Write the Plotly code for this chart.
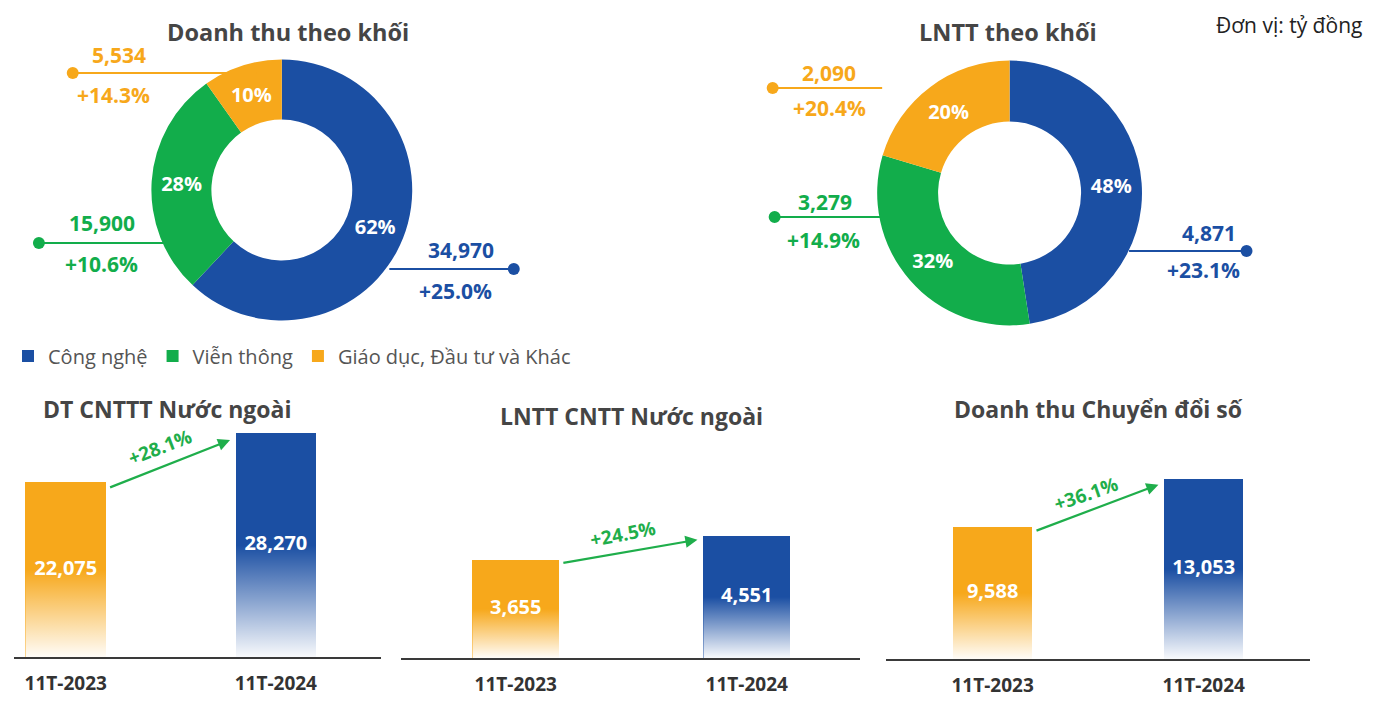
import plotly.graph_objects as go

# ---------------- data ----------------
segments = ["Công nghệ", "Viễn thông", "Giáo dục, Đầu tư và Khác"]
revenue_by_segment = [34970, 15900, 5534]
revenue_growth = ["+25.0%", "+10.6%", "+14.3%"]
pbt_by_segment = [4871, 3279, 2090]
pbt_growth = ["+23.1%", "+14.9%", "+20.4%"]

periods = ["11T-2023", "11T-2024"]
foreign_it_revenue = [22075, 28270]
foreign_it_pbt = [3655, 4551]
digital_revenue = [9588, 13053]

# ---------------- style ----------------
OFF = 8                      # page body margin
W, H = 1376 - 2 * OFF, 708 - 2 * OFF
FONT = "Open Sans"
BLUE, GREEN, ORANGE = "#1b4fa3", "#12ad4b", "#f7a81b"
SEG_COLORS = [BLUE, GREEN, ORANGE]
TITLE_C = "#454545"


def fx(x):
    return (x - OFF) / W


def fy(y):
    return 1 - (y - OFF) / H


fig = go.Figure()

# ---------------- donuts ----------------
donuts = [
    dict(values=revenue_by_segment, growth=revenue_growth, cx=277, cy=190, r=131,
         legend="legend", title="Doanh thu theo khối", tx=283,
         callouts=[
             dict(dot=510, end=385, y=269, v=(457, 250), g=(451, 291)),
             dict(dot=33, end=160, y=243, v=(96, 223), g=(96, 264)),
             dict(dot=67, end=252, y=73, v=(113, 55), g=(108, 95)),
         ]),
    dict(values=pbt_by_segment, growth=pbt_growth, cx=1008, cy=193, r=133,
         legend="legend2", title="LNTT theo khối", tx=1006,
         callouts=[
             dict(dot=1246, end=1128, y=251, v=(1208, 233), g=(1203, 270)),
             dict(dot=772, end=878, y=217, v=(823, 202), g=(821, 240)),
             dict(dot=770, end=880, y=88, v=(827, 73), g=(827, 108)),
         ]),
]

shapes = []
annotations = []

for d in donuts:
    fig.add_trace(go.Pie(
        labels=segments, values=d["values"], hole=0.54, sort=False,
        direction="clockwise", rotation=0,
        marker=dict(colors=SEG_COLORS, line=dict(width=0)),
        texttemplate="%{percent:.0%}", textposition="inside",
        insidetextorientation="horizontal",
        textfont=dict(family=FONT, size=20, color="white", weight="bold"),
        domain=dict(x=[fx(d["cx"] - d["r"]), fx(d["cx"] + d["r"])],
                    y=[fy(d["cy"] + d["r"]), fy(d["cy"] - d["r"])]),
        legend=d["legend"], hoverinfo="label+value+percent",
    ))
    annotations.append(dict(
        text=d["title"], x=fx(d["tx"]), y=fy(32), xref="paper", yref="paper",
        showarrow=False, xanchor="center", yanchor="middle",
        font=dict(family=FONT, size=23.5, color=TITLE_C, weight="bold")))
    for i, c in enumerate(d["callouts"]):
        col = SEG_COLORS[i]
        shapes.append(dict(type="line", xref="paper", yref="paper",
                           x0=fx(c["dot"]), x1=fx(c["end"]), y0=fy(c["y"]), y1=fy(c["y"]),
                           line=dict(color=col, width=2)))
        shapes.append(dict(type="circle", xref="paper", yref="paper",
                           x0=fx(c["dot"] - 6), x1=fx(c["dot"] + 6),
                           y0=fy(c["y"] + 6), y1=fy(c["y"] - 6),
                           fillcolor=col, line=dict(width=0)))
        annotations.append(dict(
            text=f"{d['values'][i]:,}", x=fx(c["v"][0]), y=fy(c["v"][1]),
            xref="paper", yref="paper", showarrow=False, xanchor="center", yanchor="middle",
            font=dict(family=FONT, size=21, color=col, weight="bold")))
        annotations.append(dict(
            text=d["growth"][i], x=fx(c["g"][0]), y=fy(c["g"][1]),
            xref="paper", yref="paper", showarrow=False, xanchor="center", yanchor="middle",
            font=dict(family=FONT, size=21, color=col, weight="bold")))

annotations.append(dict(
    text="Đơn vị: tỷ đồng", x=fx(1364), y=fy(9), xref="paper", yref="paper",
    showarrow=False, xanchor="right", yanchor="top",
    font=dict(family=FONT, size=21, color="#222222")))

# ---------------- bar charts ----------------
bar_charts = [
    dict(values=foreign_it_revenue, title="DT CNTTT Nước ngoài", tx=162, ty=409,
         ax="x", ay="y", xdom=[8, 377], base=657, left=60, unit=211, width=81,
         pxper=0.00791, top=420, tshift=(-9, 17), tangle=-21),
    dict(values=foreign_it_pbt, title="LNTT CNTT Nước ngoài", tx=628, ty=416,
         ax="x2", ay="y2", xdom=[397, 858], base=658, left=512, unit=232, width=87,
         pxper=0.0268, top=420, tshift=(-7, 17), tangle=-11),
    dict(values=digital_revenue, title="Doanh thu Chuyển đổi số", tx=1097, ty=409,
         ax="x3", ay="y3", xdom=[884, 1310], base=659, left=991, unit=212, width=80,
         pxper=0.01377, top=420, tshift=(-11, 14), tangle=-19),
]

bar_colors = [ORANGE, BLUE]
layout_axes = {}

for k, b in enumerate(bar_charts):
    xs = list(range(len(periods)))
    w = b["width"] / b["unit"]
    fig.add_trace(go.Bar(
        x=xs, y=b["values"], width=w, marker=dict(color=bar_colors, line=dict(width=0)),
        xaxis=b["ax"], yaxis=b["ay"], showlegend=False, hoverinfo="y",
    ))
    # white fade overlay towards the bottom of each bar
    for i, v in enumerate(b["values"]):
        fig.add_trace(go.Scatter(
            x=[i - w / 2, i + w / 2, i + w / 2, i - w / 2, i - w / 2],
            y=[0, 0, v, v, 0], mode="lines", line=dict(width=0),
            fill="toself",
            fillgradient=dict(type="vertical", colorscale=[
                [0, "rgba(255,255,255,0.97)"], [0.5, "rgba(255,255,255,0)"],
                [1, "rgba(255,255,255,0)"]]),
            xaxis=b["ax"], yaxis=b["ay"], showlegend=False, hoverinfo="skip",
        ))
    fig.add_trace(go.Scatter(
        x=xs, y=[v / 2 for v in b["values"]], mode="text",
        text=[f"{v:,}" for v in b["values"]],
        textfont=dict(family=FONT, size=20, color="white", weight="bold"),
        xaxis=b["ax"], yaxis=b["ay"], showlegend=False, hoverinfo="skip",
    ))
    x0px, x1px = b["xdom"]
    xr = [-(b["left"] - x0px) / b["unit"], (x1px - b["left"]) / b["unit"]]
    yr = [0, (b["base"] - b["top"]) / b["pxper"]]
    sfx = "" if k == 0 else str(k + 1)
    layout_axes["xaxis" + sfx] = dict(
        domain=[fx(x0px), fx(x1px)], range=xr, anchor="y" + sfx,
        tickmode="array", tickvals=xs, ticktext=periods,
        showline=True, linecolor="#3a3a3a", linewidth=1.5, showgrid=False,
        zeroline=False, ticks="", ticklabelstandoff=8,
        tickfont=dict(family=FONT, size=19, color="#333333", weight="bold"),
        fixedrange=True)
    layout_axes["yaxis" + sfx] = dict(
        domain=[fy(b["base"]), fy(b["top"])], range=yr, anchor="x" + sfx,
        visible=False, showgrid=False, zeroline=False, fixedrange=True)
    annotations.append(dict(
        text=b["title"], x=fx(b["tx"]), y=fy(b["ty"]), xref="paper", yref="paper",
        showarrow=False, xanchor="center", yanchor="middle",
        font=dict(family=FONT, size=23, color=TITLE_C, weight="bold")))
    v0, v1 = b["values"]
    tail = (w / 2 + 0.012, v0 * 0.968)
    head = (1 - w / 2 - 0.026, v1 * 0.97)
    annotations.append(dict(
        x=head[0], y=head[1], ax=tail[0], ay=tail[1],
        xref=b["ax"], yref=b["ay"], axref=b["ax"], ayref=b["ay"],
        showarrow=True, arrowhead=2, arrowsize=1.1, arrowwidth=2.2,
        arrowcolor="#1fae4b", text=""))
    annotations.append(dict(
        text=f"+{(v1 / v0 - 1) * 100:.1f}%",
        x=(tail[0] + head[0]) / 2, y=(tail[1] + head[1]) / 2,
        xref=b["ax"], yref=b["ay"], showarrow=False,
        xshift=b["tshift"][0], yshift=b["tshift"][1], textangle=b["tangle"],
        font=dict(family=FONT, size=19, color="#1fae4b", weight="bold")))

legend_style = dict(orientation="h", xanchor="center", yanchor="middle",
                    font=dict(family=FONT, size=20, color="#555555"),
                    itemwidth=30, bgcolor="rgba(0,0,0,0)", traceorder="normal")

fig.update_layout(
    width=W, height=H, margin=dict(l=0, r=0, t=0, b=0),
    paper_bgcolor="white", plot_bgcolor="white",
    font=dict(family=FONT),
    legend=dict(x=fx(287), y=fy(356), **legend_style),
    legend2=dict(x=fx(1011), y=fy(356), **legend_style),
    shapes=shapes, annotations=annotations, bargap=0,
    **layout_axes,
)

fig.write_html("out.html")
